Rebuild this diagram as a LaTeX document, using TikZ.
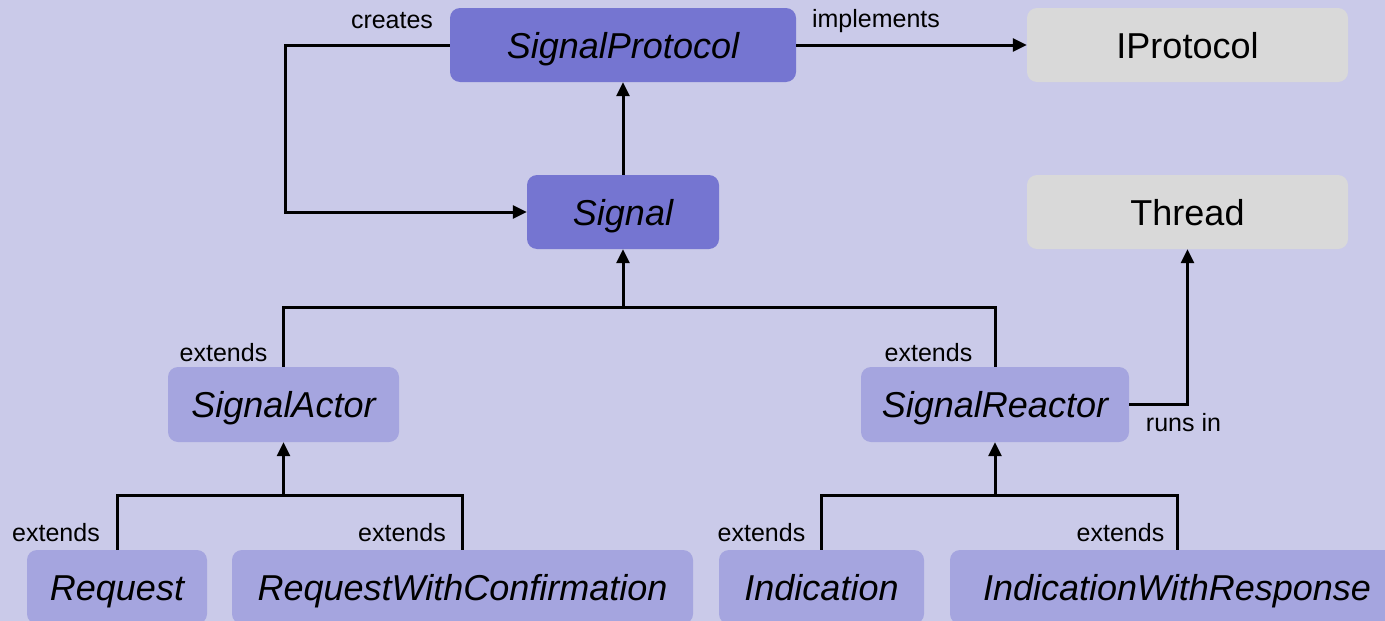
\documentclass[tikz,border=0pt]{standalone}
\usepackage{fontspec}
\setmainfont{Liberation Sans}
\usetikzlibrary{arrows.meta}
\definecolor{bgc}{RGB}{202,202,233}
\definecolor{darkbox}{RGB}{117,117,209}
\definecolor{lightbox}{RGB}{165,165,223}
\definecolor{graybox}{RGB}{217,217,217}
\tikzset{
  box/.style={rounded corners=10pt, inner sep=0pt, minimum height=74pt, text height=26pt, text depth=0pt, font=\fontsize{36}{40}\selectfont\itshape, text=black},
  dbox/.style={box, fill=darkbox},
  lbox/.style={box, fill=lightbox},
  gbox/.style={box, fill=graybox, font=\fontsize{36}{40}\selectfont},
  lbl/.style={inner sep=0pt, font=\fontsize{25}{30}\selectfont, text=black},
  conn/.style={line width=3pt, draw=black},
  arr/.style={conn, -{Triangle[length=14pt,width=13pt]}}
}
\begin{document}
\begin{tikzpicture}[x=1pt,y=-1pt]
\useasboundingbox (0,0) rectangle (1385,621);
\fill[bgc] (0,0) rectangle (1385,621);
\clip (0,0) rectangle (1385,621);
% nodes
\node[dbox, minimum width=346pt] (sp) at (623,45) {SignalProtocol};
\node[gbox, minimum width=321pt] (ip) at (1187.5,45) {IProtocol};
\node[gbox, minimum width=321pt] (th) at (1187.5,212) {Thread};
\node[dbox, minimum width=192pt] (sig) at (623,212) {Signal};
\node[lbox, minimum width=231pt, minimum height=75pt] (sa) at (283.5,404.5) {SignalActor};
\node[lbox, minimum width=268pt, minimum height=75pt] (sr) at (995,404.5) {SignalReactor};
\node[lbox, minimum width=180pt] (req) at (117,587) {Request};
\node[lbox, minimum width=461pt] (rwc) at (462.5,587) {RequestWithConfirmation};
\node[lbox, minimum width=205pt] (ind) at (821.5,587) {Indication};
\node[lbox, minimum width=454pt] (iwr) at (1177,587) {IndicationWithResponse};
% junctions
\coordinate (cl) at (285,45);
\coordinate (j1) at (623,307);
\coordinate (j2) at (283.5,495);
\coordinate (j3) at (995,495);
% connectors
\draw[arr] (sp.west) -- (cl) |- (sig.west);
\draw[arr] (sp.east) -- (ip.west);
\draw[arr] (sig.north) -- (sp.south);
\draw[conn] (sa.north) |- (j1);
\draw[conn] (sr.north) |- (j1);
\draw[arr] (j1) -- (sig.south);
\draw[arr] (sr.east) -| (th.south);
\draw[conn] (req.north) |- (j2);
\draw[conn] (rwc.north) |- (j2);
\draw[arr] (j2) -- (sa.south);
\draw[conn] (ind.north) |- (j3);
\draw[conn] (iwr.north) |- (j3);
\draw[arr] (j3) -- (sr.south);
% labels
\node[lbl] (lcreates) at (392,21) {creates};
\node[lbl] (limpl) at (876,21) {implements};
\node[lbl] (lext1) at (223.5,353) {extends};
\node[lbl] (lext2) at (928.5,353) {extends};
\node[lbl] (lruns) at (1183.5,423) {runs in};
\node[lbl] (lext3) at (56,533) {extends};
\node[lbl] (lext4) at (402,533) {extends};
\node[lbl] (lext5) at (761.5,533) {extends};
\node[lbl] (lext6) at (1120.5,533) {extends};
\end{tikzpicture}
\end{document}
